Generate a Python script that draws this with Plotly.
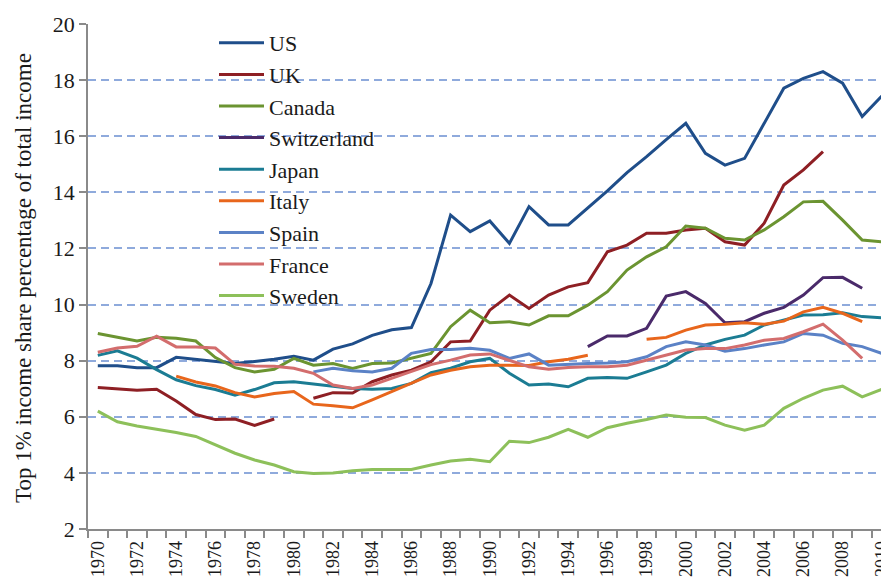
import plotly.graph_objects as go

years = list(range(1970, 2011))

us = [7.82, 7.82, 7.75, 7.75, 8.12, 8.05, 7.98, 7.90, 7.97, 8.05,
      8.16, 8.02, 8.41, 8.60, 8.90, 9.10, 9.18, 10.75, 13.19, 12.60,
      12.98, 12.18, 13.49, 12.84, 12.84, 13.45, 14.05, 14.70, 15.27, 15.88,
      16.46, 15.39, 14.97, 15.21, 16.46, 17.71, 18.06, 18.30, 17.89, 16.70,
      17.43]
uk = [7.04, 7.00, 6.95, 6.98, 6.56, 6.08, 5.90, 5.92, 5.69, 5.92,
      None, 6.66, 6.86, 6.85, 7.25, 7.49, 7.66, 7.96, 8.67, 8.70,
      9.80, 10.34, 9.86, 10.34, 10.63, 10.78, 11.88, 12.12, 12.54, 12.54,
      12.66, 12.72, 12.24, 12.12, 12.90, 14.26, 14.80, 15.45, None, None,
      None]
canada = [8.97, 8.84, 8.70, 8.83, 8.80, 8.70, 8.11, 7.75, 7.60, 7.69,
          8.08, 7.84, 7.90, 7.72, 7.90, 7.92, 8.08, 8.26, 9.21, 9.80,
          9.35, 9.39, 9.27, 9.60, 9.60, 9.98, 10.46, 11.23, 11.70, 12.06,
          12.80, 12.72, 12.36, 12.30, 12.66, 13.13, 13.66, 13.68, 13.01, 12.30,
          12.24]
switzerland = [None] * 25 + [8.50, 8.88, 8.88, 9.15, 10.30,
               10.46, 10.04, 9.35, 9.39, 9.69, 9.90, 10.34, 10.96, 10.97, 10.58,
               None]
japan = [8.19, 8.35, 8.09, 7.68, 7.32, 7.11, 6.97, 6.77, 6.97, 7.21,
         7.25, 7.17, 7.07, 7.01, 6.98, 7.01, 7.19, 7.57, 7.73, 7.96,
         8.08, 7.55, 7.13, 7.17, 7.07, 7.37, 7.40, 7.37, 7.60, 7.84,
         8.26, 8.56, 8.76, 8.91, 9.27, 9.45, 9.63, 9.64, 9.71, 9.57,
         9.53]
italy = [None, None, None, None, 7.45, 7.24, 7.10, 6.86, 6.71, 6.83,
         6.90, 6.45, 6.39, 6.32, 6.60, 6.90, 7.19, 7.49, 7.66, 7.78,
         7.84, 7.83, 7.83, 7.96, 8.05, 8.19, None, None, 8.76, 8.83,
         9.09, 9.27, 9.30, 9.35, 9.30, 9.41, 9.74, 9.90, 9.69, 9.39,
         None]
spain = [None] * 11 + [7.60, 7.73, 7.64, 7.60, 7.73, 8.26, 8.40, 8.40, 8.44,
         8.37, 8.08, 8.24, 7.84, 7.88, 7.90, 7.92, 7.96, 8.14, 8.50,
         8.67, 8.56, 8.34, 8.43, 8.56, 8.67, 8.97, 8.91, 8.62, 8.50,
         8.26]
france = [8.30, 8.45, 8.51, 8.87, 8.49, 8.49, 8.45, 7.87, 7.81, 7.80,
          7.73, 7.55, 7.13, 7.01, 7.13, 7.37, 7.60, 7.86, 8.02, 8.20,
          8.24, 8.02, 7.78, 7.69, 7.76, 7.78, 7.78, 7.84, 8.02, 8.20,
          8.38, 8.43, 8.43, 8.56, 8.73, 8.79, 9.03, 9.30, 8.73, 8.08,
          None]
sweden = [6.20, 5.82, 5.67, 5.56, 5.44, 5.30, 5.00, 4.70, 4.46, 4.28,
          4.04, 3.98, 4.00, 4.08, 4.12, 4.12, 4.12, 4.28, 4.42, 4.49,
          4.40, 5.13, 5.08, 5.27, 5.55, 5.27, 5.61, 5.77, 5.90, 6.06,
          5.98, 5.97, 5.70, 5.52, 5.70, 6.30, 6.66, 6.95, 7.09, 6.71,
          6.98]

series_names = ["US", "UK", "Canada", "Switzerland", "Japan", "Italy", "Spain", "France", "Sweden"]
series_values = [us, uk, canada, switzerland, japan, italy, spain, france, sweden]
series_colors = ["#1F4E8A", "#8E1F24", "#6B9431", "#4A2A6A", "#1B7C93",
                 "#E8661C", "#5B82C6", "#D36D6D", "#8DC05A"]

tick_years = [1970, 1972, 1974, 1976, 1978, 1980, 1982, 1984, 1986, 1988, 1990,
              1992, 1994, 1996, 1998, 2000, 2002, 2004, 2006, 2008, 2010]
tick_labels = [str(y) for y in tick_years]
y_ticks = [2, 4, 6, 8, 10, 12, 14, 16, 18, 20]

y_title = "Top 1% income share percentage of total income"

SERIF = "Liberation Serif, Times New Roman, serif"

fig = go.Figure()
for name, vals, col in zip(series_names, series_values, series_colors):
    fig.add_trace(go.Scatter(
        x=years, y=vals, name=name, mode="lines",
        line=dict(color=col, width=3),
        connectgaps=False,
    ))

# the page body has an 8px default margin: work in window pixels, then offset
OFF = 8
WIN_W, WIN_H = 889, 584
W, H = WIN_W - OFF, WIN_H - OFF
plot_left, plot_top, plot_bottom = 88, 24, 529   # window pixels
ml = plot_left - OFF
mt = plot_top - OFF
mb = H - (plot_bottom - OFF)
plot_w = W - ml
plot_h = H - mt - mb
px_per_year = 19.6
x_lo = 1969.5
x_hi = x_lo + plot_w / px_per_year


def py_to_paper(py):
    return (plot_bottom - py) / plot_h


def px_to_paper(px):
    return (px - plot_left) / plot_w


fig.update_layout(
    width=W, height=H,
    margin=dict(l=ml, r=0, t=mt, b=mb, autoexpand=False),
    paper_bgcolor="white", plot_bgcolor="white",
    font=dict(family=SERIF, color="#1a1a1a"),
    showlegend=True,
    legend=dict(
        x=px_to_paper(214), y=py_to_paper(22), xanchor="left", yanchor="top",
        bgcolor="rgba(0,0,0,0)", font=dict(family=SERIF, size=22, color="#1a1a1a"),
        itemwidth=45, tracegroupgap=0, maxheight=520,
    ),
    xaxis=dict(
        range=[x_lo, x_hi], automargin=False,
        tickmode="array", tickvals=tick_years, ticktext=tick_labels,
        tickangle=-90, tickfont=dict(family=SERIF, size=18, color="#1a1a1a"),
        ticklabeloverflow="allow",
        ticks="outside", ticklen=3, tickcolor="rgba(0,0,0,0)",
        minor=dict(ticks="outside", ticklen=7, tickcolor="#8a8a8a", tickwidth=1.5,
                   tick0=1969.5, dtick=1, showgrid=False),
        showline=True, linecolor="#8a8a8a", linewidth=1.5,
        showgrid=False, zeroline=False,
    ),
    yaxis=dict(
        range=[2, 20], automargin=False, tickmode="array", tickvals=y_ticks,
        tickfont=dict(family=SERIF, size=22, color="#1a1a1a"),
        ticks="outside", ticklen=7, tickcolor="#8a8a8a", tickwidth=1.5,
        showline=True, linecolor="#8a8a8a", linewidth=1.5,
        showgrid=True, gridcolor="#8FAADC", gridwidth=2, griddash="8px,5px",
        zeroline=False,
    ),
    shapes=[
        dict(type="rect", xref="paper", yref="paper",
             x0=px_to_paper(262), x1=px_to_paper(423),
             y0=py_to_paper(296), y1=py_to_paper(30),
             fillcolor="white", line=dict(width=0), layer="between"),
        dict(type="rect", xref="paper", yref="paper",
             x0=px_to_paper(262), x1=px_to_paper(392),
             y0=py_to_paper(309), y1=py_to_paper(295),
             fillcolor="white", line=dict(width=0), layer="between"),
    ],
    annotations=[
        dict(text=y_title, xref="paper", yref="paper", x=0, y=py_to_paper(278),
             xanchor="center", yanchor="middle", xshift=23 - plot_left,
             textangle=-90, showarrow=False,
             font=dict(family=SERIF, size=23, color="#1a1a1a")),
    ],
)

fig.write_html("out.html", config={"displayModeBar": False})
